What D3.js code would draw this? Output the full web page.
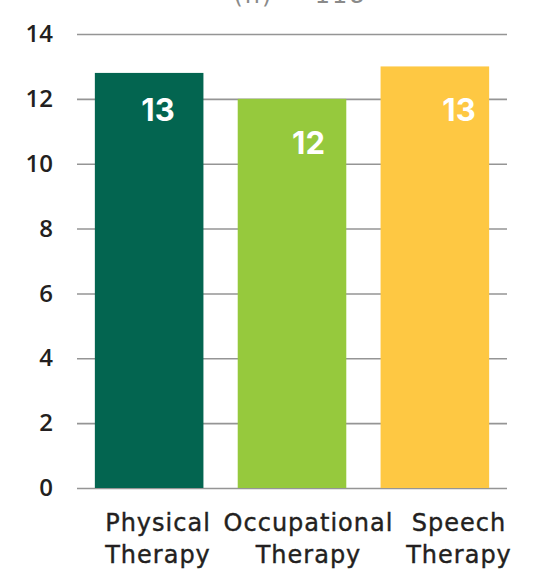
<!DOCTYPE html>
<html>
<head>
<meta charset="utf-8">
<script src="https://cdn.jsdelivr.net/npm/d3@7"></script>
<style>
  body { margin: 0; background: #fff; }
  text { font-family: Inter, "Open Sans", sans-serif; }
</style>
</head>
<body>
<div id="grafica"></div>
<script>
// data
var categories = ["Physical Therapy", "Occupational Therapy", "Speech Therapy"];
var values = [12.8, 12, 13];
var valueLabels = ["13", "12", "13"];
var yTicks = [0, 2, 4, 6, 8, 10, 12, 14];
var colors = ["#036550", "#96c93d", "#fec843"];
var subtitle = "(n) = 118";

var margin = {top: 34, right: 41, bottom: 85, left: 77},
    width = 548 - margin.left - margin.right,
    height = 573 - margin.top - margin.bottom;

var svg = d3.select("#grafica")
  .append("svg")
    .attr("width", width + margin.left + margin.right)
    .attr("height", height + margin.top + margin.bottom)
  .append("g")
    .attr("transform", "translate(" + margin.left + "," + margin.top + ")");

var x = d3.scaleBand()
  .domain(categories)
  .range([0, width])
  .paddingInner(0.24)
  .paddingOuter(0.125);

// labels sit a bit right of the bars in the original
var xl = d3.scalePoint()
  .domain(categories)
  .range([158 - margin.left, 459 - margin.left]);

var y = d3.scaleLinear()
  .domain([0, 14])
  .range([height, 0]);

// subtitle, cut off at the top edge like the original
svg.append("text")
  .attr("x", 300 - margin.left)
  .attr("y", 3 - margin.top)
  .attr("text-anchor", "middle")
  .style("font-family", "'DejaVu Sans', sans-serif")
  .style("font-size", "24px")
  .style("letter-spacing", "2px")
  .style("fill", "#8a8a8a")
  .text(subtitle);

// gridlines
svg.append("g")
  .attr("class", "grid")
  .call(d3.axisLeft(y).tickValues(yTicks).tickSize(-width).tickFormat(""))
  .call(function(g) { g.select(".domain").remove(); })
  .selectAll("line")
    .attr("stroke", "#959595")
    .attr("stroke-width", 1.6);

// y labels
var yAxis = svg.append("g")
  .call(d3.axisLeft(y).tickValues(yTicks).tickSize(0).tickPadding(24));
yAxis.select(".domain").remove();
yAxis.selectAll("text")
  .style("font-size", "24px")
  .style("font-weight", 600)
  .style("fill", "#231f20")
  .style("font-family", "'Open Sans', sans-serif");

// bars
svg.selectAll(".bar")
  .data(categories)
  .enter().append("rect")
    .attr("class", "bar")
    .attr("x", function(d) { return x(d); })
    .attr("width", x.bandwidth())
    .attr("y", function(d, i) { return y(values[i]); })
    .attr("height", function(d, i) { return height - y(values[i]); })
    .style("fill", function(d, i) { return colors[i]; });

// value labels
svg.selectAll(".val")
  .data(categories)
  .enter().append("text")
    .attr("class", "val")
    .attr("x", function(d) { return xl(d); })
    .attr("y", function(d, i) { return y(+valueLabels[i]) + 55; })
    .attr("text-anchor", "middle")
    .style("font-size", "31px")
    .style("font-weight", 700)
    .style("fill", "#fff")
    .text(function(d, i) { return valueLabels[i]; });

// category labels, two lines
var cat = svg.selectAll(".cat")
  .data(categories)
  .enter().append("text")
    .attr("class", "cat")
    .attr("text-anchor", "middle")
    .style("font-family", "'DejaVu Sans', sans-serif")
    .style("font-size", "24px")
    .style("letter-spacing", "1px")
    .style("fill", "#231f20")
    .style("stroke", "#231f20")
    .style("stroke-width", 0.4);
cat.each(function(d) {
  var words = d.split(" ");
  var t = d3.select(this);
  words.forEach(function(w, k) {
    t.append("tspan")
      .attr("x", xl(d))
      .attr("y", height + 43 + k * 32)
      .text(w);
  });
});
</script>
</body>
</html>
